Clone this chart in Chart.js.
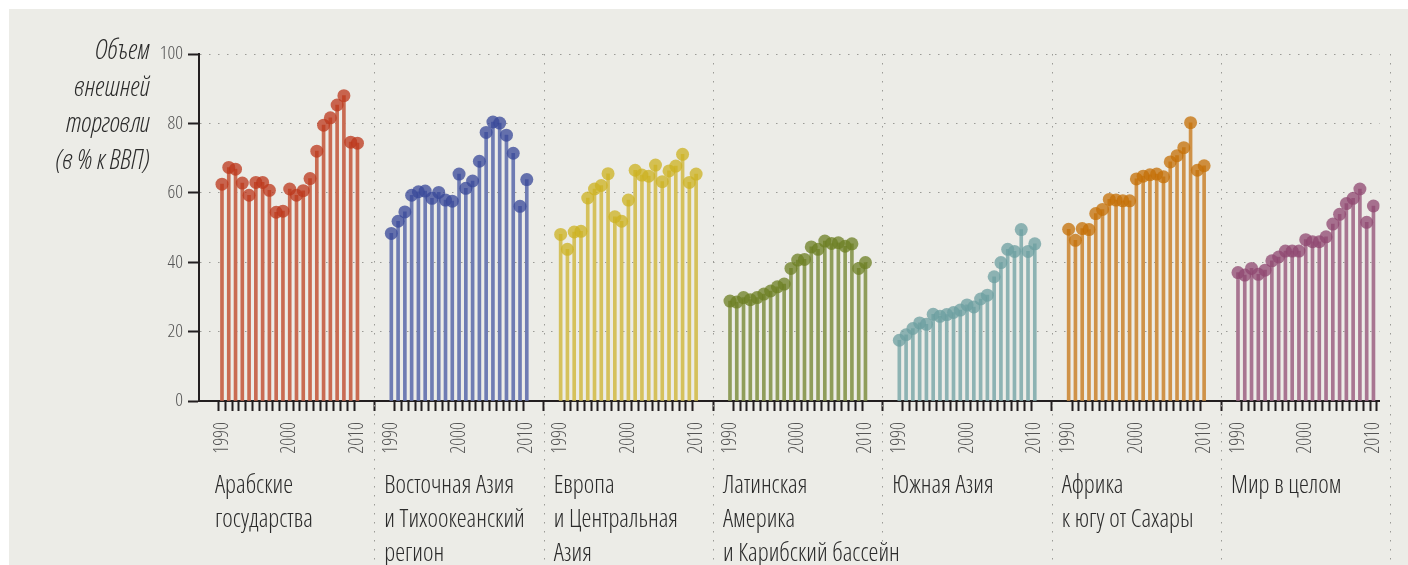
<!DOCTYPE html>
<html lang="ru">
<head>
<meta charset="utf-8">
<title>Объем внешней торговли</title>
<script src="https://cdn.jsdelivr.net/npm/chart.js@4.4.1/dist/chart.umd.min.js"></script>
<style>
  html, body { margin: 0; padding: 0; background: #fff; }
  #wrap { position: relative; width: 1408px; height: 565px; overflow: hidden; }
  #bg { position: absolute; left: 9px; top: 9px; right: 0; bottom: 0; background: #ecece7; }
  #chart { position: absolute; left: 0; top: 0; }
  .narrow { font-family: 'Open Sans', Roboto, sans-serif; font-stretch: 75%; font-weight: 350; }
  #ytitle {
    position: absolute; right: 1258px; top: 31px; text-align: right;
    font-style: italic; font-size: 27px; line-height: 36.5px; color: #2b2b2b;
  }
  .region {
    position: absolute; top: 466px; white-space: nowrap;
    font-size: 25px; line-height: 34px; color: #2b2b2b;
  }
</style>
</head>
<body>
<div id="wrap">
  <div id="bg"></div>
  <canvas id="chart" width="1408" height="565"></canvas>
  <div id="ytitle" class="narrow">Объем<br>внешней<br>торговли<br>(в % к ВВП)</div>
</div>
<script>
const years = [1990, 1991, 1992, 1993, 1994, 1995, 1996, 1997, 1998, 1999, 2000,
               2001, 2002, 2003, 2004, 2005, 2006, 2007, 2008, 2009, 2010];
const yearLabels = [1990, 2000, 2010];
const yTicks = [0, 20, 40, 60, 80, 100];

const regionNames = [
  ['Арабские', 'государства'],
  ['Восточная Азия', 'и Тихоокеанский', 'регион'],
  ['Европа', 'и Центральная', 'Азия'],
  ['Латинская', 'Америка', 'и Карибский бассейн'],
  ['Южная Азия'],
  ['Африка', 'к югу от Сахары'],
  ['Мир в целом']
];

// торговля, % ВВП, 1990–2010
const arabStates = [62.5, 67.3, 66.8, 62.8, 59.3, 63.0, 63.0, 60.7, 54.4, 54.7, 61.1,
                    59.3, 60.6, 64.1, 72.0, 79.5, 81.6, 85.3, 88.0, 74.6, 74.3];
const eastAsia   = [48.3, 51.8, 54.5, 59.3, 60.3, 60.5, 58.4, 60.1, 57.9, 57.6, 65.4,
                    61.3, 63.4, 69.1, 77.4, 80.4, 80.1, 76.6, 71.4, 56.1, 63.8];
const europe     = [48.0, 43.7, 48.7, 48.9, 58.5, 61.1, 62.1, 65.5, 53.1, 51.8, 57.9,
                    66.5, 65.1, 64.8, 68.0, 63.2, 66.3, 67.7, 71.1, 63.0, 65.4];
const latAmerica = [28.8, 28.5, 29.8, 29.2, 29.8, 30.8, 31.7, 32.9, 33.7, 38.2, 40.6,
                    40.8, 44.4, 43.7, 46.1, 45.4, 45.6, 44.6, 45.3, 38.2, 39.9];
const southAsia  = [17.5, 19.1, 20.9, 22.5, 22.1, 25.0, 24.4, 24.9, 25.5, 26.2, 27.7,
                    27.1, 29.4, 30.5, 35.8, 39.9, 43.7, 43.1, 49.4, 43.1, 45.3];
const subSahara  = [49.5, 46.3, 49.7, 49.4, 54.0, 55.2, 58.1, 57.9, 57.7, 57.7, 64.0,
                    64.8, 65.2, 65.4, 64.6, 68.9, 70.7, 73.0, 80.2, 66.5, 67.8];
const world      = [37.0, 36.3, 38.2, 36.5, 37.7, 40.4, 41.5, 43.2, 43.2, 43.2, 46.5,
                    45.9, 45.9, 47.3, 51.0, 53.8, 56.9, 58.4, 61.1, 51.5, 56.2];

const series = [arabStates, eastAsia, europe, latAmerica, southAsia, subSahara, world];

const stemColors = ['#c96b52', '#6f7cb3', '#d5c15c', '#8f9d5a', '#8db3b3', '#cf9248', '#a87591'];
const dotColors = ['rgba(188,55,27,0.75)', 'rgba(55,71,152,0.75)', 'rgba(204,177,32,0.75)',
                   'rgba(108,127,35,0.75)', 'rgba(108,159,160,0.75)', 'rgba(196,111,6,0.75)',
                   'rgba(143,71,112,0.75)'];

// each region gets its own block on one shared x axis
const PITCH = 25;
const GAP_MID = (PITCH - years.length + 1) / 2;
const FONT = "'Open Sans', Roboto, sans-serif";
const INK = '#231f20';
const DOTS = '#9b9b96';

const datasets = [];
series.forEach((vals, p) => {
  const pts = vals.map((v, i) => ({ x: p * PITCH + i, y: v }));
  datasets.push({
    type: 'bar', data: pts, backgroundColor: stemColors[p],
    barThickness: 3, grouped: false, order: 2
  });
  datasets.push({
    type: 'scatter', data: pts, backgroundColor: dotColors[p],
    borderWidth: 0, pointRadius: 6.5, order: 1
  });
});

// dotted vertical rules between region blocks
const separators = {
  id: 'separators',
  beforeDatasetsDraw(chart) {
    const { ctx, scales: { x }, chartArea } = chart;
    ctx.save();
    ctx.strokeStyle = DOTS;
    ctx.lineWidth = 1;
    ctx.setLineDash([1.5, 7.5]);
    for (let p = 1; p <= series.length; p++) {
      const px = Math.round(x.getPixelForValue(p * PITCH - GAP_MID)) + 0.5;
      ctx.beginPath();
      ctx.moveTo(px, chartArea.top);
      ctx.lineTo(px, chart.height);
      ctx.stroke();
    }
    ctx.restore();
  }
};

const chart = new Chart(document.getElementById('chart'), {
  type: 'bar',
  data: { datasets },
  options: {
    responsive: false,
    animation: false,
    layout: { padding: { top: 54, right: 28, left: 0, bottom: 0 } },
    plugins: { legend: { display: false }, tooltip: { enabled: false } },
    scales: {
      x: {
        type: 'linear',
        min: -2.8,
        max: 170.3,
        afterBuildTicks: s => {
          s.ticks = [];
          series.forEach((vals, p) => years.forEach((yr, i) => s.ticks.push({ value: p * PITCH + i })));
        },
        afterFit: s => { s.height = 164; },
        ticks: {
          autoSkip: false, minRotation: 90, maxRotation: 90, padding: 11,
          color: '#555', font: { family: FONT, size: 19.5, weight: '350 condensed' },
          callback: v => {
            const yr = years[Math.round(v) % PITCH];
            return yearLabels.includes(yr) ? String(yr) : '';
          }
        },
        grid: { drawOnChartArea: false, tickLength: 10, tickColor: INK, tickWidth: 2 },
        border: { color: INK, width: 2 }
      },
      y: {
        min: 0,
        max: 100,
        afterBuildTicks: s => { s.ticks = yTicks.map(v => ({ value: v })); },
        afterFit: s => { s.width = 199; },
        ticks: { color: '#555', padding: 5, font: { family: FONT, size: 19, weight: '350 condensed' } },
        grid: {
          color: ctx => (ctx.tick && ctx.tick.value === 0) ? 'rgba(0,0,0,0)' : DOTS,
          lineWidth: 1,
          tickLength: 11, tickColor: INK, tickWidth: 2, tickBorderDash: []
        },
        border: { color: INK, width: 2, dash: [1.5, 7.5] }
      }
    }
  },
  plugins: [separators]
});

// region captions under each block
const wrap = document.getElementById('wrap');
regionNames.forEach((lines, p) => {
  const div = document.createElement('div');
  div.className = 'region narrow';
  div.style.left = (chart.scales.x.getPixelForValue(p * PITCH) - 7) + 'px';
  div.innerHTML = lines.join('<br>');
  wrap.appendChild(div);
});
</script>
</body>
</html>
